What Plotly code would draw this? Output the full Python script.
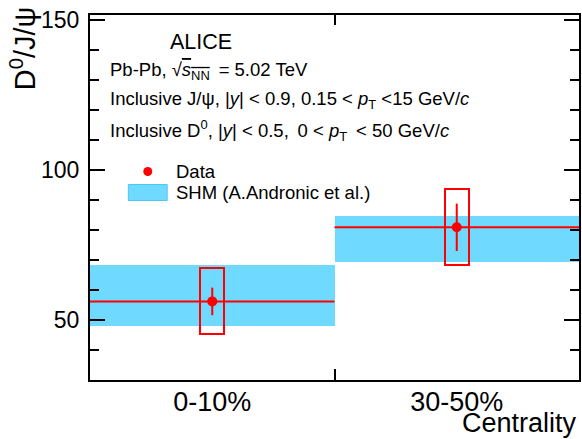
import plotly.graph_objects as go

# ---------------- data ----------------
categories = ["0-10%", "30-50%"]
data_values = [56.2, 80.9]
stat_err = [4.6, 7.9]
syst_err = [11.0, 12.7]
shm_low = [48.1, 69.3]
shm_high = [68.4, 84.8]
shm_center = [56.2, 80.9]
y_ticks = [50, 100, 150]

# ---------------- geometry helpers ----------------
W, H = 582, 439
ML, MR, MT, MB = 90, 1, 15, 59
PW, PH = W - ML - MR, H - MT - MB

def xp(px):
    return (px - ML) / PW

def yp(py):
    return (H - MB - py) / PH

FONT = "Liberation Sans, Arial, Helvetica, sans-serif"
RED = "#ff0000"
BAND = "#6fd9ff"
TS = "\u2009"  # thin space

centers = [i + 0.5 for i in range(len(categories))]
bin_edges = list(range(len(categories) + 1))
xr = [bin_edges[0], bin_edges[-1]]

fig = go.Figure()

# SHM bands
fig.add_trace(go.Bar(
    x=centers, y=[h - l for h, l in zip(shm_high, shm_low)], base=shm_low,
    width=1.0, marker=dict(color=BAND, line=dict(width=0)),
    showlegend=False, hoverinfo="skip"))

# systematic boxes
fig.add_trace(go.Bar(
    x=centers, y=[2 * s for s in syst_err],
    base=[v - s for v, s in zip(data_values, syst_err)],
    width=0.1, marker=dict(color="rgba(0,0,0,0)", line=dict(color=RED, width=2)),
    showlegend=False, hoverinfo="skip"))

# data points with stat errors
fig.add_trace(go.Scatter(
    x=centers, y=data_values, mode="markers",
    marker=dict(color=RED, size=10, symbol="circle"),
    error_y=dict(type="data", array=stat_err, color=RED, thickness=2, width=0),
    showlegend=False))

# central lines across each bin (drawn on the mirrored top axis, same scale)
lx, ly = [], []
for i, v in enumerate(shm_center):
    lx += [bin_edges[i], bin_edges[i + 1], None]
    ly += [v, v, None]
fig.add_trace(go.Scatter(x=lx, y=ly, mode="lines", xaxis="x2",
                         line=dict(color=RED, width=2), showlegend=False,
                         hoverinfo="skip"))

fig.update_layout(
    width=W, height=H,
    margin=dict(l=ML, r=MR, t=MT, b=MB),
    paper_bgcolor="white", plot_bgcolor="white",
    barmode="overlay", bargap=0,
    font=dict(family=FONT, color="black"),
    showlegend=False,
    xaxis=dict(range=xr, showgrid=False, zeroline=False,
               showline=True, linecolor="black", linewidth=2, mirror=True,
               tickvals=centers, ticktext=categories, ticks="",
               tickfont=dict(size=27, family=FONT), ticklabelstandoff=-3,
               minor=dict(tickvals=bin_edges[1:-1], ticks="inside", ticklen=11,
                          tickwidth=1.5, tickcolor="black", showgrid=False)),
    xaxis2=dict(overlaying="x", side="top", anchor="y", range=xr, showgrid=False,
                zeroline=False, showline=True, linecolor="black", linewidth=2,
                tickvals=bin_edges[1:-1], ticktext=[""] * len(bin_edges[1:-1]),
                ticks="inside", ticklen=10, tickwidth=1.5, tickcolor="black",
                layer="above traces"),
    yaxis=dict(range=[30, 151.67], showgrid=False, zeroline=False,
               showline=True, linecolor="black", linewidth=2, mirror="ticks",
               tickvals=y_ticks, ticks="inside", ticklen=15, tickwidth=2,
               tickcolor="black", tickfont=dict(size=23, family=FONT),
               ticklabelstandoff=4,
               minor=dict(dtick=10, ticks="inside", ticklen=9, tickwidth=1.5,
                          tickcolor="black", showgrid=False)),
)

ann = []
ann.append(dict(text="D<sup>0</sup>/J/ψ", x=xp(23), y=yp(4), xref="paper", yref="paper",
                xanchor="center", yanchor="top", textangle=-90, showarrow=False,
                font=dict(size=29, family=FONT)))
ann.append(dict(text="Centrality", x=xp(581), y=yp(423), xref="paper", yref="paper",
                xanchor="right", yanchor="middle", showarrow=False,
                font=dict(size=27, family=FONT)))
ann.append(dict(text="ALICE", x=xp(201), y=yp(42), xref="paper", yref="paper",
                xanchor="center", yanchor="middle", showarrow=False,
                font=dict(size=21.5, family=FONT)))
lines = [
    ("Pb-Pb, √<span style='text-decoration:overline'><i>s</i><sub>NN</sub></span>" + TS + " = 5.02 TeV", 71),
    ("Inclusive J/ψ, |<i>y</i>| &lt; 0.9, 0.15 &lt; <i>p</i><sub>T</sub> &lt;15 GeV/<i>c</i>", 100),
    ("Inclusive D<sup>0</sup>, |<i>y</i>| &lt; 0.5," + TS
     + " 0 &lt; <i>p</i><sub>T</sub>" + TS + " &lt; 50 GeV/<i>c</i>", 130),
]
for t, yy in lines:
    ann.append(dict(text=t, x=xp(108), y=yp(yy), xref="paper", yref="paper",
                    xanchor="left", yanchor="middle", showarrow=False,
                    font=dict(size=18.5, family=FONT)))
ann.append(dict(text="Data", x=xp(174), y=yp(171), xref="paper", yref="paper",
                xanchor="left", yanchor="middle", showarrow=False,
                font=dict(size=18.5, family=FONT)))
ann.append(dict(text="SHM (A.Andronic et al.)", x=xp(174), y=yp(192), xref="paper", yref="paper",
                xanchor="left", yanchor="middle", showarrow=False,
                font=dict(size=18.5, family=FONT)))
fig.update_layout(annotations=ann)

# legend keys
fig.add_shape(type="circle", xref="paper", yref="paper",
              x0=xp(143.5), x1=xp(152.5), y0=yp(176), y1=yp(167),
              fillcolor=RED, line=dict(color=RED, width=0))
fig.add_shape(type="rect", xref="paper", yref="paper",
              x0=xp(128.5), x1=xp(167.5), y0=yp(200.5), y1=yp(184.5),
              fillcolor=BAND, line=dict(color="#4cc8f5", width=1))

fig.write_html("out.html", config={"displayModeBar": False},
               post_script="document.body.style.margin='0';document.body.style.overflow='hidden';")
